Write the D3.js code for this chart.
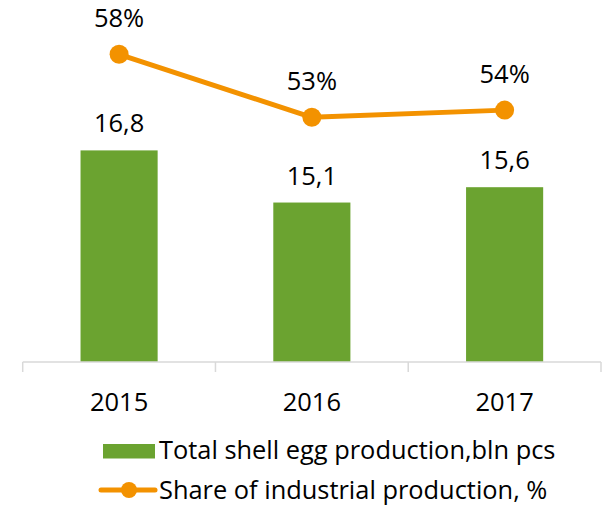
<!DOCTYPE html>
<html><head><meta charset="utf-8">
<script src="https://cdn.jsdelivr.net/npm/d3@7"></script>
<style>html,body{margin:0;padding:0;background:#fff;}svg{display:block;}</style>
</head><body>
<svg id="chart" width="608" height="505"></svg>
<script>
const years = ["2015", "2016", "2017"];
const production = [16.8, 15.1, 15.6];
const industrialShare = [57.6, 53.2, 53.7];
const seriesNames = ["Total shell egg production,bln pcs", "Share of industrial production, %"];

const W = 608, H = 505;
const plot = {left: 22.7, right: 601, top: 40, bottom: 362};
const green = "#6ba330", orange = "#f39200";
const font = "'Open Sans', 'Noto Sans', sans-serif";

const svg = d3.select("#chart");

const x = d3.scaleBand().domain(years).range([plot.left, plot.right])
  .paddingInner(0.6).paddingOuter(0.3);
const y = d3.scaleLinear().domain([9.9, 20.4]).range([plot.bottom, plot.top]);
const y2 = d3.scaleLinear().domain([36.1, 58.6]).range([plot.bottom, plot.top]);

// bars
svg.append("g").selectAll("rect").data(years).join("rect")
  .attr("x", d => x(d)).attr("width", x.bandwidth())
  .attr("y", (d, i) => y(production[i]))
  .attr("height", (d, i) => plot.bottom - y(production[i]))
  .attr("fill", green);

// axis
const ax = svg.append("g");
ax.append("line").attr("x1", plot.left).attr("x2", plot.right)
  .attr("y1", plot.bottom).attr("y2", plot.bottom)
  .attr("stroke", "#d9d9d9").attr("stroke-width", 1.5);
const step = x.step();
const t0 = x(years[0]) - x.paddingOuter() * step;
d3.range(years.length + 1).forEach(i => {
  ax.append("line").attr("x1", t0 + i * step).attr("x2", t0 + i * step)
    .attr("y1", plot.bottom).attr("y2", plot.bottom + 10)
    .attr("stroke", "#d9d9d9").attr("stroke-width", 1.5);
});
ax.selectAll("text.year").data(years).join("text")
  .attr("x", d => x(d) + x.bandwidth() / 2).attr("y", 411)
  .attr("text-anchor", "middle").attr("font-family", font).attr("font-size", 25.5)
  .attr("fill", "#000").text(d => d);

// bar labels
const fmtBar = v => d3.format(".1f")(v).replace(".", ",");
svg.append("g").selectAll("text").data(years).join("text")
  .attr("x", d => x(d) + x.bandwidth() / 2)
  .attr("y", (d, i) => y(production[i]) - 18)
  .attr("text-anchor", "middle").attr("font-family", font).attr("font-size", 25.5)
  .attr("fill", "#000").text((d, i) => fmtBar(production[i]));

// line
const cx = d => x(d) + x.bandwidth() / 2;
const line = d3.line().x((d, i) => cx(years[i])).y(d => y2(d));
svg.append("path").datum(industrialShare).attr("d", line)
  .attr("fill", "none").attr("stroke", orange).attr("stroke-width", 5)
  .attr("stroke-linejoin", "round");
svg.append("g").selectAll("circle").data(industrialShare).join("circle")
  .attr("cx", (d, i) => cx(years[i])).attr("cy", d => y2(d)).attr("r", 9.5)
  .attr("fill", orange);
svg.append("g").selectAll("text").data(industrialShare).join("text")
  .attr("x", (d, i) => cx(years[i])).attr("y", d => y2(d) - 27)
  .attr("text-anchor", "middle").attr("font-family", font).attr("font-size", 25.5)
  .attr("fill", "#000").text(d => d3.format(".0f")(d) + "%");

// legend
const lg = svg.append("g");
lg.append("rect").attr("x", 103).attr("y", 444).attr("width", 52).attr("height", 14.5).attr("fill", green);
lg.append("text").attr("x", 159).attr("y", 459).attr("font-family", font).attr("font-size", 25.4)
  .attr("fill", "#000").text(seriesNames[0]);
lg.append("line").attr("x1", 101).attr("x2", 155).attr("y1", 490).attr("y2", 490)
  .attr("stroke", orange).attr("stroke-width", 5).attr("stroke-linecap", "round");
lg.append("circle").attr("cx", 129).attr("cy", 490).attr("r", 8).attr("fill", orange);
lg.append("text").attr("x", 159).attr("y", 499).attr("font-family", font).attr("font-size", 25.4)
  .attr("fill", "#000").text(seriesNames[1]);
</script>
</body></html>
